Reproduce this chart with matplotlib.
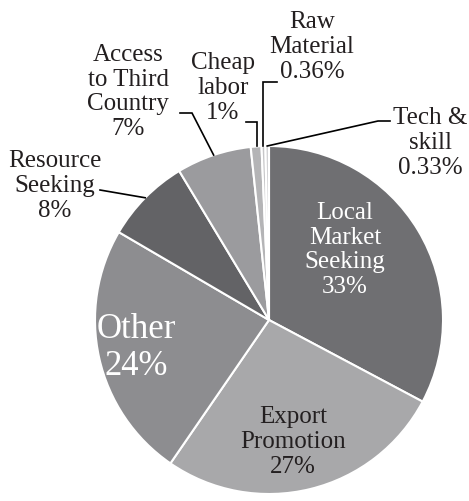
import numpy as np
import matplotlib
matplotlib.use("Agg")
import matplotlib.pyplot as plt

plt.rcParams["font.family"] = "serif"
plt.rcParams["font.serif"] = ["Liberation Serif", "DejaVu Serif"]

# clockwise from 12 o'clock
labels = ["Local\nMarket\nSeeking", "Export\nPromotion", "Other", "Resource\nSeeking",
          "Access\nto Third\nCountry", "Cheap\nlabor", "Raw\nMaterial", "Tech &\nskill"]
values = [33, 27, 24, 8, 7, 1, 0.36, 0.33]
pct_text = ["33%", "27%", "24%", "8%", "7%", "1%", "0.36%", "0.33%"]
colors = ["#6f6f72", "#a8a8aa", "#8d8d90", "#636366", "#9b9b9e", "#b4b4b6", "#c6c6c8", "#d2d2d4"]

W, H = 469, 501
cx, cy, R = 269, 320, 174

fig = plt.figure(figsize=(W / 100, H / 100), dpi=100)
ax = fig.add_axes([(cx - R) / W, (H - cy - R) / H, 2 * R / W, 2 * R / H])

wedges, _ = ax.pie(values, colors=colors, startangle=90, counterclock=False,
                   radius=1, wedgeprops=dict(edgecolor="white", linewidth=1.5))
ax.set_xlim(-1, 1)
ax.set_ylim(-1, 1)
ax.set_aspect("equal")
ax.axis("off")


def d(px, py):
    return (px - cx) / R, (cy - py) / R


def edge(w):
    a = np.deg2rad((w.theta1 + w.theta2) / 2)
    return np.cos(a), np.sin(a)


# label placement in pixels: (x, y, size, color)
pos = {
    0: (345, 250, 18, "white"),
    1: (293, 442, 18, "#231f20"),
    2: (136, 348, 25, "white"),
    3: (55, 186, 18, "#231f20"),
    4: (128, 92, 18, "#231f20"),
    5: (223, 88, 18, "#231f20"),
    6: (312, 47, 18, "#231f20"),
    7: (430, 143, 18, "#231f20"),
}
for i, (px, py, fs, c) in pos.items():
    x, y = d(px, py)
    ax.text(x, y, labels[i] + "\n" + pct_text[i], ha="center", va="center",
            fontsize=fs, color=c, linespacing=1.15, clip_on=False)

# leader lines (pixel elbows)
leaders = {
    3: [(100, 190)],
    4: [(180, 113), (192, 113)],
    5: [(246, 122), (257, 122)],
    6: [(277, 82), (263, 82)],
    7: [(390, 121), (378, 121)],
}
for i, pts in leaders.items():
    ex, ey = edge(wedges[i])
    xs = [d(*p)[0] for p in pts] + [ex]
    ys = [d(*p)[1] for p in pts] + [ey]
    if i in (5, 6):
        xs[-1] = xs[-2]
    ax.plot(xs, ys, color="black", linewidth=1.2, clip_on=False,
            solid_joinstyle="miter")

fig.savefig("out.png", dpi=100)
